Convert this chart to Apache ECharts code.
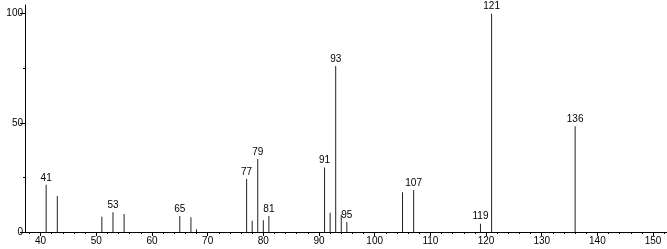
<!DOCTYPE html>
<html>
<head>
<meta charset="utf-8">
<script src="https://cdn.jsdelivr.net/npm/echarts@6/dist/echarts.min.js"></script>
<style>
html,body{margin:0;padding:0;background:#fff;}
#chart{width:667px;height:249px;}
</style>
</head>
<body>
<div id="chart"></div>
<script>
// m/z values and relative intensities
var mz =        [41,   43,   51,  53,  55,  65,  67,  68,  77,   78,  79,   80,  81,  91,   92,  93,   94,  95,  105,  107,  119, 121, 136];
var intensity = [21.6, 16.5, 7.0, 9.0, 8.3, 7.3, 6.8, 1.3, 24.3, 5.2, 33.5, 5.4, 7.3, 29.6, 8.8, 76.1, 8.0, 4.6, 18.2, 19.2, 3.8, 100, 48.4];
var labeledPeaks = [41, 53, 65, 77, 79, 81, 91, 93, 95, 107, 119, 121, 136];
var xMajorTicks = [40, 50, 60, 70, 80, 90, 100, 110, 120, 130, 140, 150];
var xMinorTicks = [38, 42, 44, 46, 48, 52, 54, 56, 58, 62, 64, 66, 68, 72, 74, 76, 78, 82, 84, 86, 88, 92, 94, 96, 98, 102, 104, 106, 108, 112, 114, 116, 118, 122, 124, 126, 128, 132, 134, 136, 138, 142, 144, 146, 148, 152];
var yMajorTicks = [0, 50, 100];
var yMinorTicks = [25, 75];

var data = mz.map(function (m, i) {
  var item = { value: [m, intensity[i]] };
  if (labeledPeaks.indexOf(m) >= 0) {
    item.label = { show: true };
  }
  return item;
});

var font = 'Liberation Sans';
var chart = echarts.init(document.getElementById('chart'), null, { renderer: 'canvas' });
chart.setOption({
  animation: false,
  backgroundColor: '#ffffff',
  grid: { left: 25, right: 0, top: 5, bottom: 17, containLabel: false },
  xAxis: [{
    type: 'value', min: 37.2, max: 152.5,
    axisLine: { show: true, lineStyle: { color: '#000', width: 1 } },
    axisTick: { show: true, customValues: xMajorTicks, length: 4, lineStyle: { color: '#000' } },
    axisLabel: { show: true, customValues: xMajorTicks, color: '#000', fontFamily: font, fontSize: 10, margin: 4 },
    splitLine: { show: false }
  }, {
    type: 'value', min: 37.2, max: 152.5, position: 'bottom',
    axisLine: { show: false },
    axisTick: { show: true, customValues: xMinorTicks, length: 2, lineStyle: { color: '#000' } },
    axisLabel: { show: false },
    splitLine: { show: false }
  }],
  yAxis: [{
    type: 'value', min: 0, max: 104,
    axisLine: { show: true, lineStyle: { color: '#000', width: 1 } },
    axisTick: { show: true, customValues: yMajorTicks, length: 5, lineStyle: { color: '#000' } },
    axisLabel: { show: true, customValues: yMajorTicks, color: '#000', fontFamily: font, fontSize: 10, margin: 2 },
    splitLine: { show: false }
  }, {
    type: 'value', min: 0, max: 104, position: 'left',
    axisLine: { show: false },
    axisTick: { show: true, customValues: yMinorTicks, length: 2, lineStyle: { color: '#000' } },
    axisLabel: { show: false },
    splitLine: { show: false }
  }],
  series: [{
    type: 'bar',
    xAxisIndex: 0,
    yAxisIndex: 0,
    barWidth: 1,
    itemStyle: { color: '#222' },
    label: {
      show: false, position: 'top', distance: 2,
      color: '#000', fontFamily: font, fontSize: 10,
      formatter: function (p) { return p.value[0]; }
    },
    data: data
  }]
});
</script>
</body>
</html>
